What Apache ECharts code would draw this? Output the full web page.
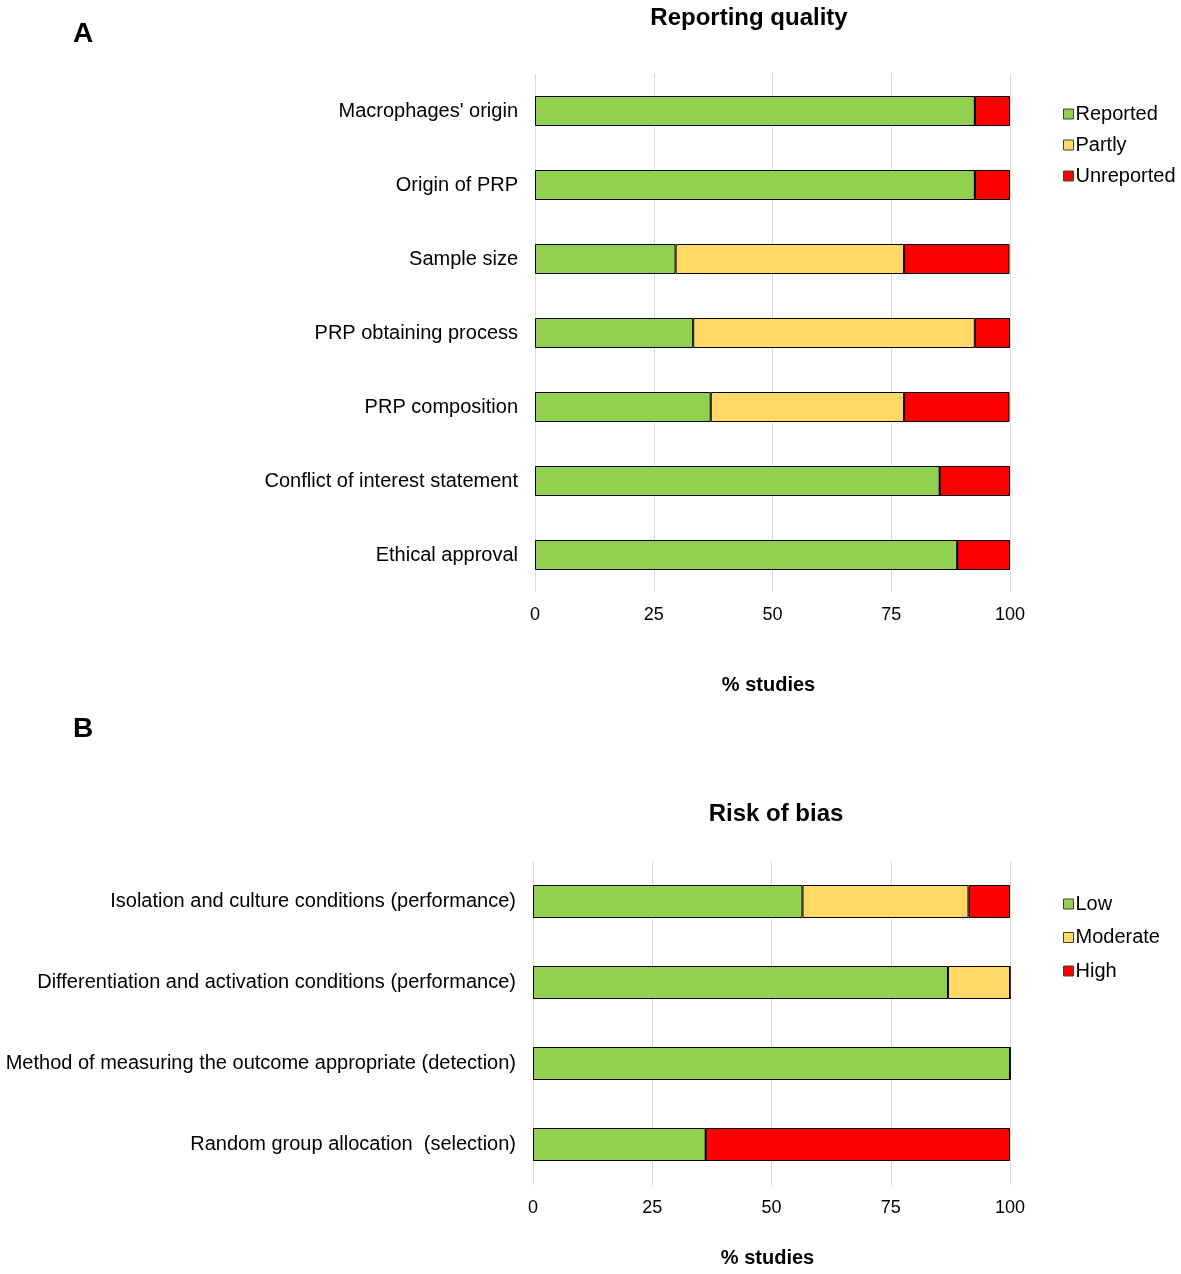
<!DOCTYPE html>
<html>
<head>
<meta charset="utf-8">
<script src="https://cdn.jsdelivr.net/npm/echarts@6/dist/echarts.min.js"></script>
<style>html,body{margin:0;padding:0;background:#fff;}#c{width:1181px;height:1274px;}</style>
</head>
<body>
<div id="c"></div>
<script>
// Panel A: Reporting quality
const catsA = ["Macrophages' origin", "Origin of PRP", "Sample size", "PRP obtaining process", "PRP composition", "Conflict of interest statement", "Ethical approval"];
const reported = [92.6, 92.6, 29.6, 33.3, 37.0, 85.2, 88.9];
const partly = [0, 0, 48.1, 59.3, 40.7, 0, 0];
const unreported = [7.4, 7.4, 22.2, 7.4, 22.2, 14.8, 11.1];
// Panel B: Risk of bias
const catsB = ["Isolation and culture conditions (performance)", "Differentiation and activation conditions (performance)", "Method of measuring the outcome appropriate (detection)", "Random group allocation  (selection)"];
const low = [56.5, 87.0, 100, 36.2];
const moderate = [34.8, 13.0, 0, 0];
const high = [8.7, 0, 0, 63.8];
const xTicks = [0, 25, 50, 75, 100];

const GREEN = '#92D050', YELLOW = '#FFD966', RED = '#FF0000';
const FONT = '"Liberation Sans", Arial, sans-serif';

const chart = echarts.init(document.getElementById('c'), null, {renderer: 'canvas'});

function xAxisCfg(gi, gap) {
  return {
    type: 'value', gridIndex: gi, min: xTicks[0], max: xTicks[xTicks.length - 1], interval: xTicks[1] - xTicks[0],
    name: '% studies', nameLocation: 'middle', nameGap: gap,
    nameTextStyle: {fontFamily: FONT, fontSize: 20, fontWeight: 'bold', color: '#000', padding: [0, 8, 0, 0]},
    axisLine: {show: false}, axisTick: {show: false},
    axisLabel: {fontFamily: FONT, fontSize: 18, color: '#000', margin: 14},
    splitLine: {show: true, lineStyle: {color: '#d9d9d9', width: 1}}
  };
}
function yAxisCfg(gi, cats) {
  return {
    type: 'category', gridIndex: gi, data: cats, inverse: true,
    axisLine: {show: false}, axisTick: {show: false},
    axisLabel: {fontFamily: FONT, fontSize: 20, color: '#000', margin: 17},
    splitLine: {show: false}
  };
}
function barSeries(name, data, color, gi, stack, bw) {
  return {
    name: name, type: 'bar', stack: stack, xAxisIndex: gi, yAxisIndex: gi,
    data: data, barWidth: bw,
    itemStyle: {color: color, borderColor: '#000', borderWidth: 1},
    emphasis: {disabled: true}
  };
}
function legendCfg(names, top, gap) {
  return {
    orient: 'vertical', left: 1058, top: top, itemGap: gap, itemWidth: 10, itemHeight: 10,
    icon: 'rect', itemStyle: {borderColor: '#404040', borderWidth: 1},
    textStyle: {fontFamily: FONT, fontSize: 20, color: '#000', padding: [0, 0, 0, -3]},
    data: names
  };
}

chart.setOption({
  animation: false,
  backgroundColor: '#fff',
  grid: [
    {left: 535, right: 171, top: 74, height: 518, containLabel: false},
    {left: 533, right: 171, top: 861, height: 324, containLabel: false}
  ],
  xAxis: [xAxisCfg(0, 83), xAxisCfg(1, 63)],
  yAxis: [yAxisCfg(0, catsA), yAxisCfg(1, catsB)],
  legend: [
    legendCfg(['Reported', 'Partly', 'Unreported'], 99, 11),
    legendCfg(['Low', 'Moderate', 'High'], 889, 13.5)
  ],
  graphic: [
    {type: 'text', left: 73, top: 20, style: {text: 'A', font: 'bold 28px ' + FONT, fill: '#000'}},
    {type: 'text', left: 73, top: 715, style: {text: 'B', font: 'bold 28px ' + FONT, fill: '#000'}},
    {type: 'text', x: 749, y: 18, style: {text: 'Reporting quality', font: 'bold 24px ' + FONT, fill: '#000', textAlign: 'center', textVerticalAlign: 'middle'}},
    {type: 'text', x: 776, y: 814, style: {text: 'Risk of bias', font: 'bold 24px ' + FONT, fill: '#000', textAlign: 'center', textVerticalAlign: 'middle'}}
  ],
  series: [
    barSeries('Reported', reported, GREEN, 0, 'a', 30),
    barSeries('Partly', partly, YELLOW, 0, 'a', 30),
    barSeries('Unreported', unreported, RED, 0, 'a', 30),
    barSeries('Low', low, GREEN, 1, 'b', 33),
    barSeries('Moderate', moderate, YELLOW, 1, 'b', 33),
    barSeries('High', high, RED, 1, 'b', 33)
  ]
});
</script>
</body>
</html>
